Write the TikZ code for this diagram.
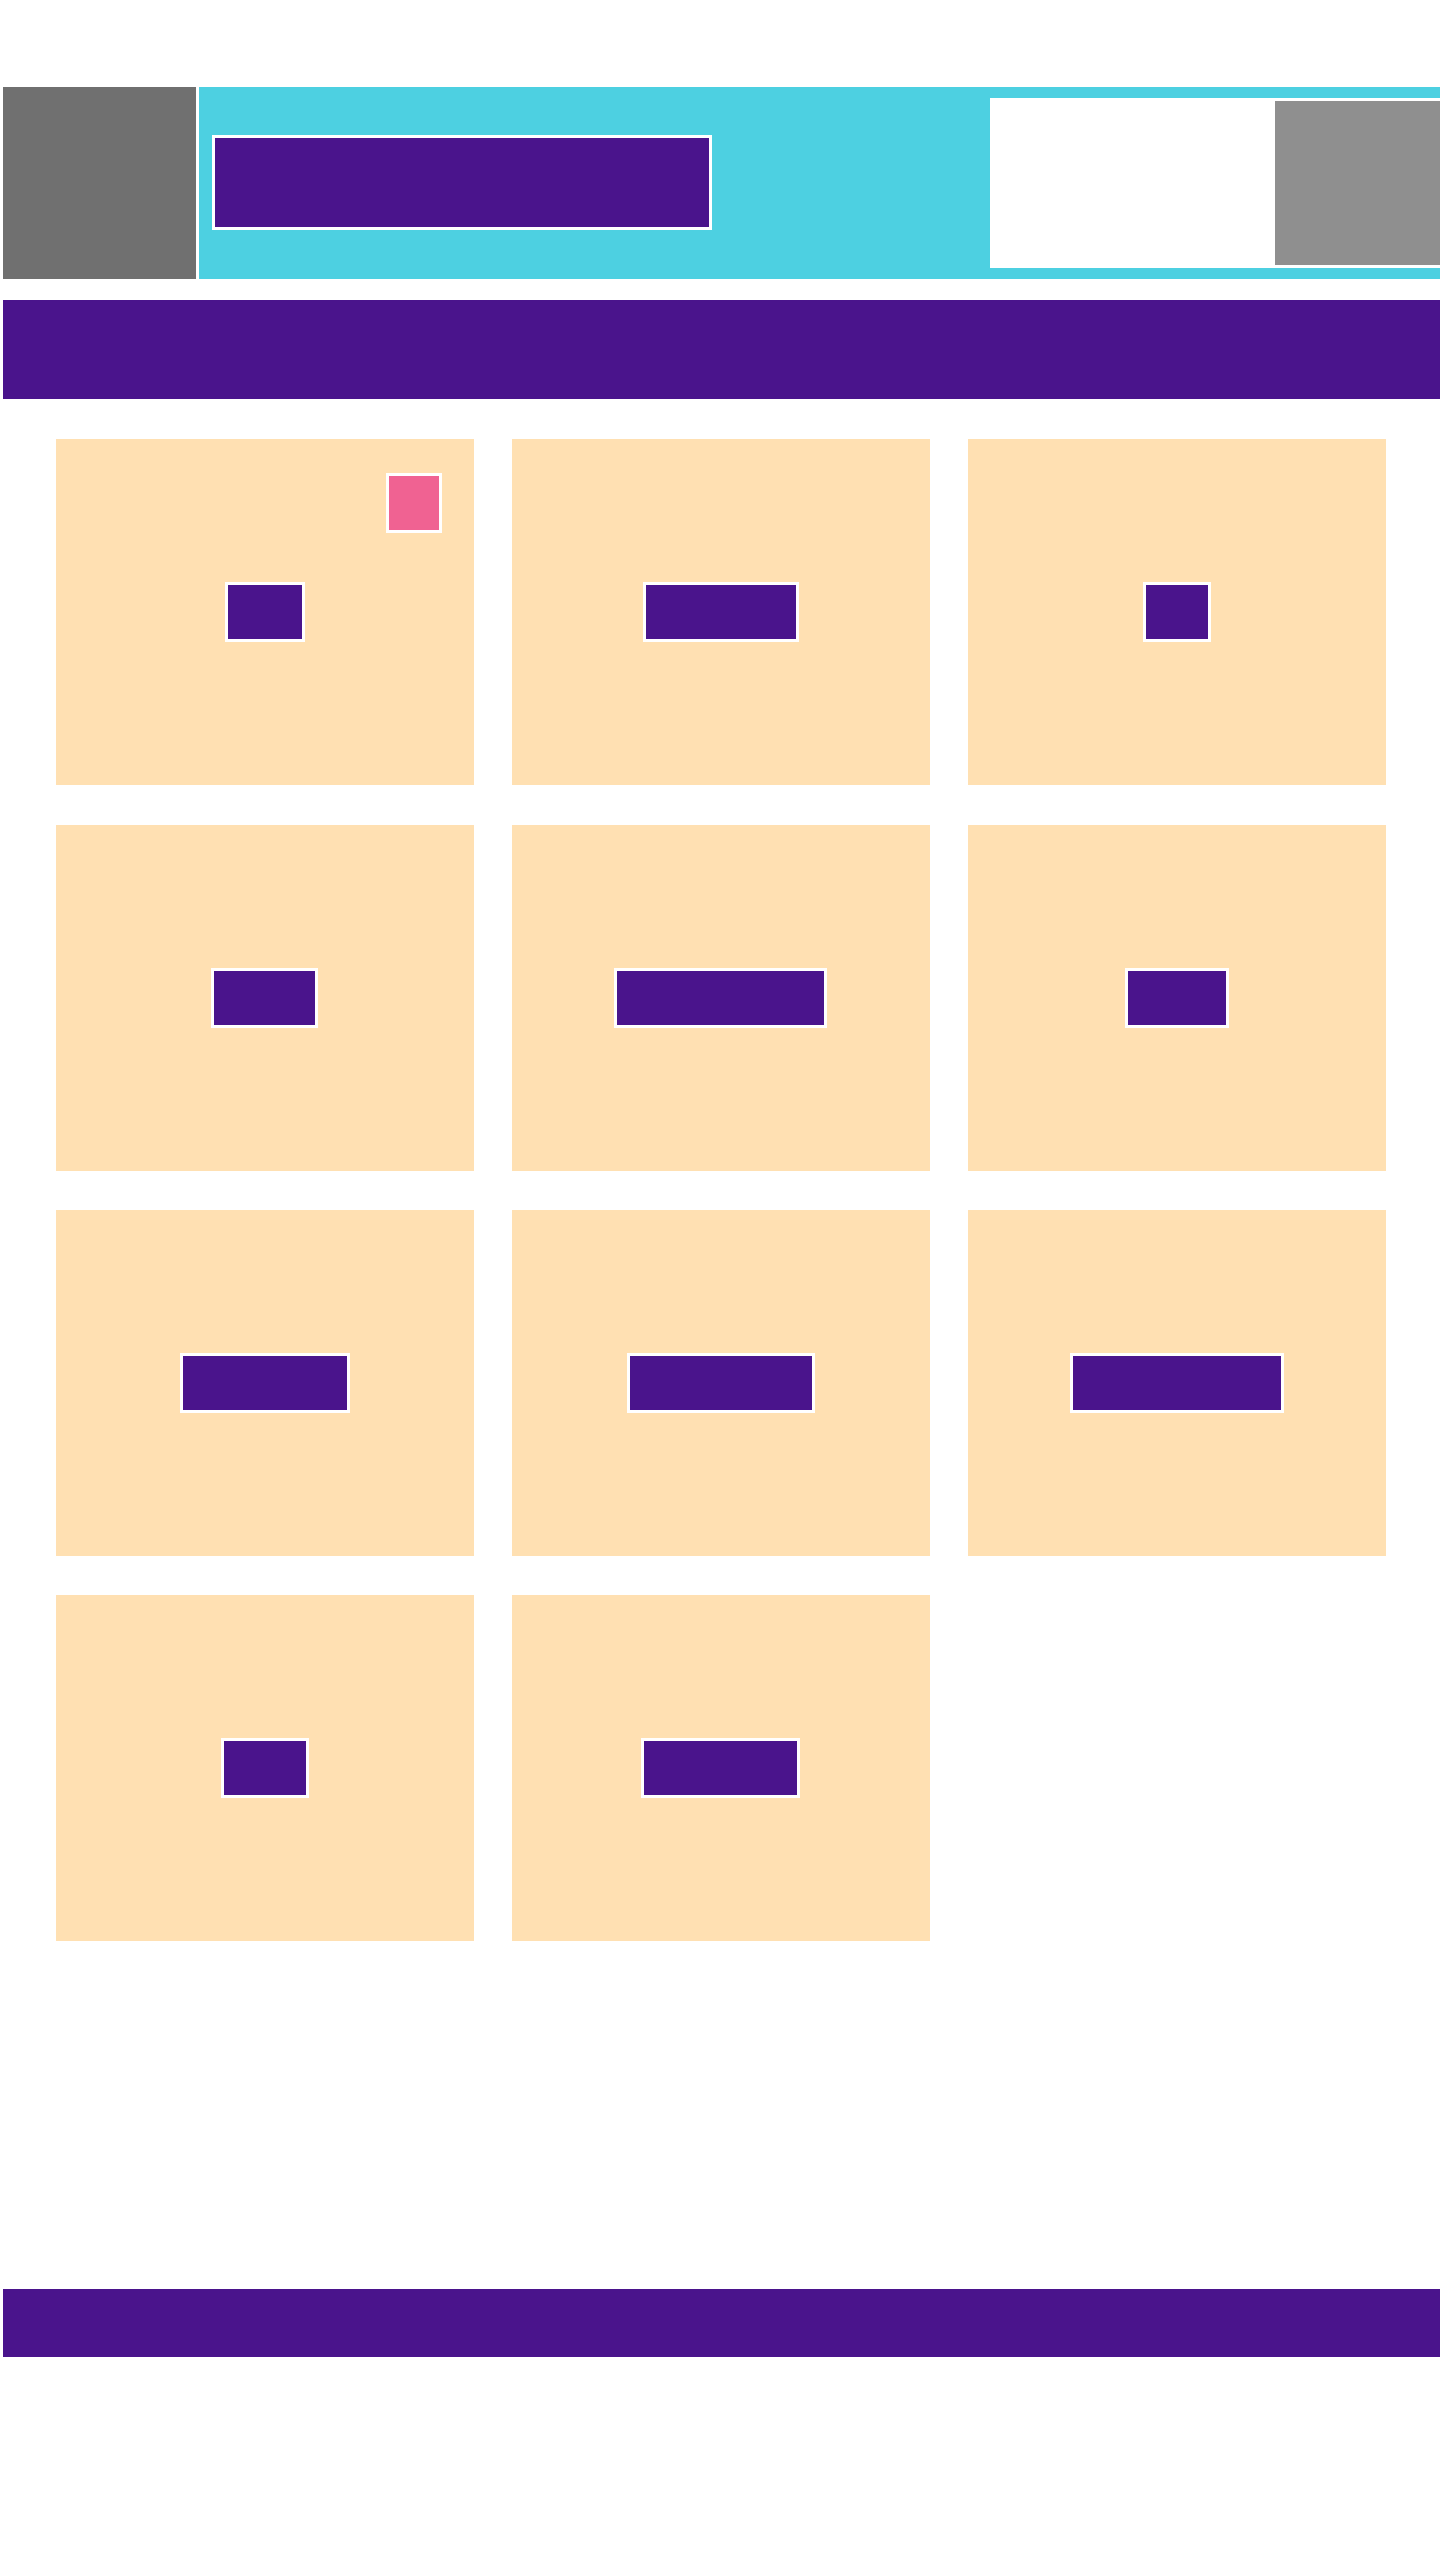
\documentclass[tikz,border=0pt]{standalone}
\definecolor{bandpurple}{HTML}{4A148C}
\definecolor{headcyan}{HTML}{4DD0E1}
\definecolor{cardorange}{HTML}{FFE0B2}
\definecolor{tagpink}{HTML}{F06292}
\definecolor{logogrey}{HTML}{707070}
\definecolor{sidegrey}{HTML}{8F8F8F}
\tikzset{
  block/.style={rectangle, inner sep=0pt, outer sep=0pt},
  card/.style={block, fill=cardorange, minimum width=418pt, minimum height=346pt},
  tag/.style={block, fill=bandpurple, draw=white, line width=3pt, minimum height=57pt},
}
\begin{document}
\begin{tikzpicture}[x=1pt,y=-1pt]
\useasboundingbox (0,0) rectangle (1440,2560);
\fill[white] (0,0) rectangle (1440,2560);
% header
\node[block, fill=logogrey, minimum width=193pt, minimum height=192pt] (logo) at (99.5,183) {};
\node[block, fill=headcyan, minimum width=1241pt, minimum height=192pt] (head) at (819.5,183) {};
\node[tag, minimum width=497pt, minimum height=92pt] (title) at (462,182.5) {};
\node[block, fill=white, minimum width=450pt, minimum height=170pt] (side) at (1215,183) {};
\node[block, fill=sidegrey, minimum width=165pt, minimum height=164pt] (sideimg) at (1357.5,183) {};
\node[block, fill=bandpurple, minimum width=1437pt, minimum height=99pt] (band) at (721.5,349.5) {};
% cards
\node[card] (c11) at (264.5,612) {};
\node[card] (c12) at (720.5,612) {};
\node[card] (c13) at (1177,612) {};
\node[card] (c21) at (264.5,997.5) {};
\node[card] (c22) at (720.5,997.5) {};
\node[card] (c23) at (1177,997.5) {};
\node[card] (c31) at (264.5,1383) {};
\node[card] (c32) at (720.5,1383) {};
\node[card] (c33) at (1177,1383) {};
\node[card] (c41) at (264.5,1767.5) {};
\node[card] (c42) at (720.5,1767.5) {};
% tags
\node[tag, minimum width=77pt] (t11) at (c11) {};
\node[tag, minimum width=153pt] (t12) at (c12) {};
\node[tag, minimum width=65pt] (t13) at (c13) {};
\node[tag, minimum width=104pt] (t21) at (c21) {};
\node[tag, minimum width=210pt] (t22) at (c22) {};
\node[tag, minimum width=101pt] (t23) at (c23) {};
\node[tag, minimum width=167pt] (t31) at (c31) {};
\node[tag, minimum width=185pt] (t32) at (c32) {};
\node[tag, minimum width=211pt] (t33) at (c33) {};
\node[tag, minimum width=85pt] (t41) at (c41) {};
\node[tag, minimum width=156pt] (t42) at (c42) {};
\node[tag, fill=tagpink, minimum width=53pt] (badge) at ([xshift=-59.5pt,yshift=-63.5pt]c11.north east) {};
% footer
\node[block, fill=bandpurple, minimum width=1437pt, minimum height=68pt] (foot) at (721.5,2323) {};
\end{tikzpicture}
\end{document}
